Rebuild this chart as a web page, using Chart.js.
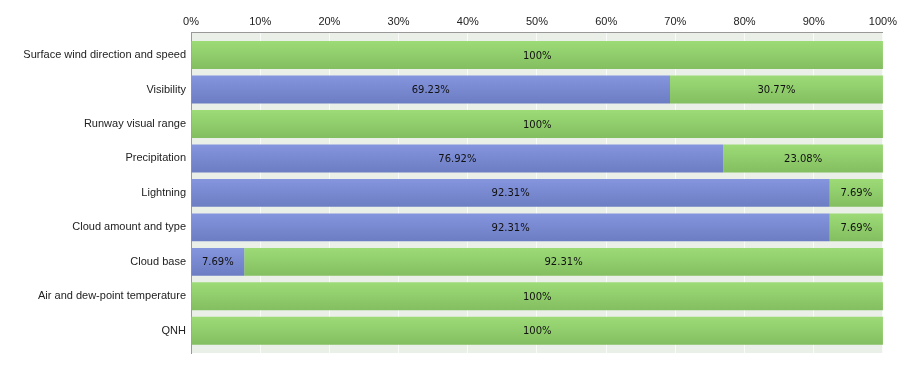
<!DOCTYPE html>
<html>
<head>
<meta charset="utf-8">
<script src="https://cdn.jsdelivr.net/npm/chart.js@4/dist/chart.umd.min.js"></script>
<style>
  html, body { margin: 0; padding: 0; background: #fff; }
  #wrap { width: 900px; height: 365px; }
</style>
</head>
<body>
<div id="wrap"><canvas id="grafico"></canvas></div>
<script>
// ==================== DATA ====================
var categorias = [
  'Surface wind direction and speed',
  'Visibility',
  'Runway visual range',
  'Precipitation',
  'Lightning',
  'Cloud amount and type',
  'Cloud base',
  'Air and dew-point temperature',
  'QNH'
];
var serieAzul = [0, 69.23, 0, 76.92, 92.31, 92.31, 7.69, 0, 0];
var serieVerde = [100, 30.77, 100, 23.08, 7.69, 7.69, 92.31, 100, 100];
var ticksX = [0, 10, 20, 30, 40, 50, 60, 70, 80, 90, 100];

var ANCHO_BARRA = 0.81;

// ==================== HELPERS ====================
function formatoPct(v) {
  return v === 100 ? '100%' : v.toFixed(2) + '%';
}

function puntos(serie) {
  return serie.map(function (v, i) { return { x: v, y: i }; });
}

// degradado vertical por barra, calculado desde la escala y
function degradado(arriba, abajo) {
  return function (c) {
    var chart = c.chart;
    var yS = chart.scales && chart.scales.y;
    if (!yS || !chart.chartArea || c.dataIndex === undefined) return arriba;
    var centro = yS.getPixelForValue(c.dataIndex);
    var h = Math.abs(yS.getPixelForValue(1) - yS.getPixelForValue(0)) * ANCHO_BARRA;
    if (!isFinite(centro) || !isFinite(h) || h <= 0) return arriba;
    var g = chart.ctx.createLinearGradient(0, centro - h / 2, 0, centro + h / 2);
    g.addColorStop(0, arriba);
    g.addColorStop(1, abajo);
    return g;
  };
}

// fondo del área de trazado
var fondoPlugin = {
  id: 'fondo',
  beforeDraw: function (chart) {
    var a = chart.chartArea, ctx = chart.ctx;
    ctx.save();
    ctx.fillStyle = '#eaf0e8';
    ctx.fillRect(a.left, a.top, a.right - a.left, a.bottom - a.top);
    ctx.restore();
  }
};

// etiquetas centradas en cada segmento
var etiquetasPlugin = {
  id: 'etiquetas',
  afterDatasetsDraw: function (chart) {
    var ctx = chart.ctx;
    ctx.save();
    ctx.font = '10px "DejaVu Sans", Verdana, sans-serif';
    ctx.fillStyle = '#111';
    ctx.textAlign = 'center';
    ctx.textBaseline = 'middle';
    chart.data.datasets.forEach(function (ds, i) {
      var meta = chart.getDatasetMeta(i);
      meta.data.forEach(function (bar, j) {
        var v = ds.data[j].x;
        if (!v) return;
        ctx.fillText(formatoPct(v), (bar.x + bar.base) / 2, bar.y + 1);
      });
    });
    ctx.restore();
  }
};

// ==================== CHART ====================
var ctx = document.getElementById('grafico').getContext('2d');
var chart = new Chart(ctx, {
  type: 'bar',
  data: {
    datasets: [
      {
        label: 'Azul',
        data: puntos(serieAzul),
        backgroundColor: degradado('#8595de', '#6c7dc3'),
        borderWidth: 0,
        barPercentage: ANCHO_BARRA,
        categoryPercentage: 1
      },
      {
        label: 'Verde',
        data: puntos(serieVerde),
        backgroundColor: degradado('#9ddb77', '#83be60'),
        borderWidth: 0,
        barPercentage: ANCHO_BARRA,
        categoryPercentage: 1
      }
    ]
  },
  options: {
    indexAxis: 'y',
    responsive: true,
    maintainAspectRatio: false,
    animation: false,
    layout: { padding: { left: 0, right: 12, top: 0, bottom: 12 } },
    plugins: {
      legend: { display: false },
      tooltip: { enabled: false }
    },
    scales: {
      x: {
        position: 'top',
        stacked: true,
        min: 0,
        max: 100,
        afterBuildTicks: function (axis) {
          axis.ticks = ticksX.map(function (v) { return { value: v }; });
        },
        afterFit: function (axis) { axis.height = 32; },
        grid: {
          color: 'rgba(255,255,255,0.7)',
          drawTicks: false
        },
        border: { color: '#999' },
        ticks: {
          color: '#222',
          padding: 3,
          maxRotation: 0,
          font: { family: 'Arial, "Liberation Sans", sans-serif', size: 11 },
          callback: function (v) { return v + '%'; }
        }
      },
      y: {
        type: 'linear',
        reverse: true,
        stacked: true,
        offset: false,
        min: -0.667,
        max: 8.644,
        afterBuildTicks: function (axis) {
          axis.ticks = categorias.map(function (c, i) { return { value: i }; });
        },
        afterFit: function (axis) { axis.width = 191; },
        grid: { display: false, drawTicks: false },
        border: { color: '#999' },
        ticks: {
          color: '#222',
          padding: 5,
          font: { family: 'Arial, "Liberation Sans", sans-serif', size: 11 },
          callback: function (v) { return categorias[v]; }
        }
      }
    }
  },
  plugins: [fondoPlugin, etiquetasPlugin]
});
</script>
</body>
</html>
